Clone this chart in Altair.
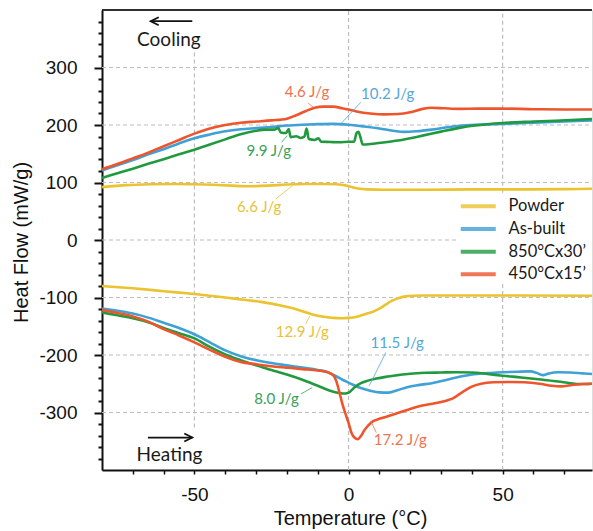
import altair as alt
import pandas as pd

# ---------------- data ----------------
SAMPLES = ["Powder", "As-built", "850°Cx30’", "450°Cx15’"]
LINE_COLORS = ["#EBC32E", "#3FA1D6", "#219A3F", "#EE552C"]
TEXT_COLORS = ["#E8C23A", "#55A8D6", "#3AA15A", "#F0704F"]

POWDER_COOL_T = [-80, -72, -64, -56, -50, -44, -38, -32, -26, -20, -14, -8, -4, -1, 1, 3, 6, 12, 25, 40, 55, 70, 79]
POWDER_COOL_V = [92, 95.5, 97, 97.5, 97, 96, 94.5, 93.5, 94.5, 96.5, 97.5, 97.5, 97, 95, 92, 89.5, 88, 87.5, 87.5, 88, 88, 88.5, 89]
POWDER_HEAT_T = [-80, -70, -60, -50, -40, -34, -28, -22, -16, -12, -8, -5, -2, 0, 2, 4, 6, 8, 10, 12, 14, 16, 18, 21, 25, 40, 55, 79]
POWDER_HEAT_V = [-80, -84, -89, -94, -100, -104, -108, -114, -122, -129, -133.5, -135.5, -136, -135.5, -134.5, -131.5, -128, -124.5, -119.5, -112.5, -106, -101.5, -98.5, -97, -96.5, -96.5, -96.5, -97]

ASB_COOL_T = [-80, -75, -70, -65, -60, -55, -50, -45, -40, -35, -30, -25, -20, -15, -10, -5, 0, 5, 10, 15, 18, 22, 27, 32, 37, 45, 50, 60, 70, 79]
ASB_COOL_V = [121, 130, 139, 149, 158, 168, 177, 183.5, 189, 192.5, 194.5, 196.5, 199, 200.5, 201.5, 202, 200.5, 197.5, 194, 189.5, 188, 189, 192, 196, 199, 201, 202, 204, 206, 208]
ASB_HEAT_T = [-80, -75, -70, -65, -60, -55, -50, -45, -40, -35, -30, -25, -20, -15, -10, -7, -4, -2, 0, 2, 4, 7, 10, 13, 16, 19, 23, 27, 32, 36, 40, 45, 50, 55, 59, 61, 63, 65, 68, 72, 76, 79]
ASB_HEAT_V = [-119, -123, -128, -135, -144, -153, -164, -178, -192, -202, -209, -214, -218, -222, -226, -229.5, -237, -243, -248, -253, -257.5, -262, -265, -265.5, -261, -256, -252, -249, -243, -238, -234, -231.5, -230, -229, -228.5, -231, -235, -232, -230, -230.5, -232, -233]

N850_COOL_T = [-80, -75, -70, -65, -60, -55, -50, -45, -40, -35, -30, -27, -24, -22.8, -22, -20.3, -19.4, -18.8, -17, -15.5, -14.3, -13.6, -12.9, -11, -9.8, -8.9, -6, -3, 0, 1.8, 2.6, 3.2, 3.8, 4.6, 8, 12, 16, 20, 24, 30, 36, 41, 50, 60, 67, 79]
N850_COOL_V = [108, 116, 124, 132.5, 140.5, 149, 157, 166, 175, 184, 190, 192, 192, 195, 187, 186, 193, 179, 180.5, 177.5, 180, 194, 175.5, 174, 177, 171, 170.5, 170, 171, 171, 186, 188, 180, 166, 167.5, 170, 173, 177, 181.5, 188.5, 195, 199, 203.5, 206, 207.5, 210.5]
N850_HEAT_T = [-80, -75, -70, -65, -60, -55, -50, -45, -40, -35, -30, -25, -20, -15, -10, -6, -3, -1, 0, 2, 4, 6, 9, 12, 16, 20, 25, 30, 35, 40, 45, 50, 56, 63, 68, 72, 75, 79]
N850_HEAT_V = [-126, -131, -136, -143, -153, -162, -171, -186, -199, -209, -218, -226, -234, -243, -253.5, -262, -266, -267, -265.5, -256, -249, -245, -241, -238, -235, -232.5, -231, -230.5, -230, -230.5, -233, -236, -239, -243, -246, -249, -250.5, -250]

N450_COOL_T = [-80, -75, -70, -65, -60, -55, -50, -45, -40, -35, -30, -25, -20, -17, -14, -11, -8, -5, -2, 0, 3, 7, 12, 16, 20, 24, 27, 31, 36, 42, 50, 60, 70, 79]
N450_COOL_V = [123, 132, 142, 152, 163, 174, 185, 194, 200, 204, 206, 208, 211, 217, 224, 230, 232, 232, 229, 227, 223, 220, 218.5, 219, 222, 228, 230, 229, 228, 228.5, 228.5, 227.5, 227, 227]
N450_HEAT_T = [-80, -75, -70, -65, -60, -55, -50, -45, -40, -35, -30, -25, -20, -15, -10, -7, -5, -4, -3, -2, -1, 0, 1, 2, 3, 4, 5, 6.5, 8, 10, 13, 16, 20, 24, 28, 32, 34, 36, 38, 40, 43, 47, 52, 57, 62, 66, 69, 72, 76, 79]
N450_HEAT_V = [-122, -127, -133, -142, -155, -166, -178, -191, -203, -212, -216, -219.5, -222, -224.5, -227, -229.5, -235, -245, -264, -285, -302, -318, -336, -344, -346.5, -341, -332, -322, -315, -311, -306, -301, -294, -288, -284, -279, -275, -268, -261, -255, -250, -247.5, -247, -247.5, -250, -253.5, -254.5, -252.5, -250.5, -250]

# enthalpy annotations
ANN_LABEL = ["4.6 J/g", "10.2 J/g", "9.9 J/g", "6.6 J/g", "12.9 J/g", "8.0 J/g", "11.5 J/g", "17.2 J/g"]
ANN_SAMPLE = [3, 1, 2, 0, 0, 2, 1, 3]
ANN_T = [-13.5, 12.7, -25.9, -29, -15, -23.4, 15.8, 16.8]
ANN_V = [248, 245, 146.5, 48, -169.5, -284.5, -187.5, -356.5]
LEAD_T1 = [-13.1, 4.0, -21.7, -23.6, -13.9, -15.5, 12.1, 9.0]
LEAD_V1 = [237.8, 239.5, 170, 71.4, -146, -268, -195.6, -335]
LEAD_T2 = [-11.2, -3.1, -19.9, -18.2, -12.6, -11.8, 6.7, 7.2]
LEAD_V2 = [229.8, 198.8, 181.5, 94.5, -132, -256.6, -253.6, -314.6]

# direction labels and arrows
DIR_LABEL = ["Cooling", "Heating"]
DIR_T = [-58.3, -58.1]
DIR_V = [337, -385]
ARROW_T1 = [-50.7, -65.1]
ARROW_T2 = [-64.2, -50.7]
ARROW_V = [380.5, -343.6]
ARROW_HEAD = ["M1,-0.5L0,0L1,0.5", "M-1,-0.5L0,0L-1,0.5"]

# axes / grid
X_DOMAIN = [-80, 79]
Y_DOMAIN = [-400, 400]
X_TICKS = list(range(-70, 80, 10))
Y_TICKS = list(range(-380, 381, 20))
HGRID_V = [300, 200, 100, 0, -100, -200, -300]
HGRID_T1 = [-80, -80, -80, -80, -80, -80, -80]
HGRID_T2 = [79, 79, 79, 35, 79, 79, 79]
VGRID_T = [-50, 0, 50, 50]
VGRID_V1 = [-326, -400, 82, -400]
VGRID_V2 = [326, 400, 400, -75]

# ---------------- build tables ----------------
series = [
    ("Powder", "cool", POWDER_COOL_T, POWDER_COOL_V),
    ("Powder", "heat", POWDER_HEAT_T, POWDER_HEAT_V),
    ("As-built", "cool", ASB_COOL_T, ASB_COOL_V),
    ("As-built", "heat", ASB_HEAT_T, ASB_HEAT_V),
    ("850°Cx30’", "cool", N850_COOL_T, N850_COOL_V),
    ("850°Cx30’", "heat", N850_HEAT_T, N850_HEAT_V),
    ("450°Cx15’", "cool", N450_COOL_T, N450_COOL_V),
    ("450°Cx15’", "heat", N450_HEAT_T, N450_HEAT_V),
]
rows = []
for name, run, ts, vs in series:
    for i, (t, v) in enumerate(zip(ts, vs)):
        rows.append({"T": t, "V": v, "sample": name, "key": name + "-" + run, "i": i})
lines_df = pd.DataFrame(rows)

ann_df = pd.DataFrame({
    "label": ANN_LABEL, "T": ANN_T, "V": ANN_V,
    "color": [TEXT_COLORS[k] for k in ANN_SAMPLE],
    "T1": LEAD_T1, "V1": LEAD_V1, "T2": LEAD_T2, "V2": LEAD_V2,
})
dir_df = pd.DataFrame({"label": DIR_LABEL, "T": DIR_T, "V": DIR_V})
arrow_df = pd.DataFrame({"T1": ARROW_T1, "T2": ARROW_T2, "V": ARROW_V, "shape": ARROW_HEAD,
                         "Thead": ARROW_T2})
hgrid_df = pd.DataFrame({"V": HGRID_V, "T1": HGRID_T1, "T2": HGRID_T2})
vgrid_df = pd.DataFrame({"T": VGRID_T, "V1": VGRID_V1, "V2": VGRID_V2})

xs = alt.Scale(domain=X_DOMAIN, nice=False, zero=False)
ys = alt.Scale(domain=Y_DOMAIN, nice=False, zero=False)

AXFONT = "Liberation Sans"
TXTFONT = "Lato"
GRID = dict(color="#BDBDBD", strokeDash=[4, 3], strokeWidth=1.2)

x_axis = alt.Axis(
    values=X_TICKS, labelExpr="datum.value % 50 === 0 ? toString(datum.value) : ''",
    tickSize=4, tickWidth=1.5, tickColor="#111", domainColor="#111", domainWidth=2,
    labelFont=AXFONT, labelFontSize=19, labelColor="#111", labelBaseline="alphabetic",
    labelPadding=26, labelFlush=False, labelOverlap=False, grid=False,
    title="Temperature (°C)", titleFont=AXFONT, titleFontSize=20, titleFontWeight="normal",
    titleColor="#111", titleX=248, titleY=54, titleBaseline="alphabetic", titleAnchor="middle",
)
y_axis = alt.Axis(
    values=Y_TICKS,
    labelExpr="datum.value % 100 === 0 && abs(datum.value) <= 300 ? toString(datum.value) : ''",
    tickSize={"condition": {"test": "datum.value % 100 === 0", "value": 8}, "value": 4},
    tickWidth=2, tickColor="#111", domainColor="#111", domainWidth=2,
    labelFont=AXFONT, labelFontSize=19, labelColor="#111", labelPadding=17,
    labelFlush=False, labelOverlap=False, grid=False,
    title="Heat Flow (mW/g)", titleFont=AXFONT, titleFontSize=20, titleFontWeight="normal",
    titleColor="#111", titleX=-81, titleY=232, titleAngle=-90, titleBaseline="middle",
    titleAlign="center",
)


def X(field):
    return alt.X(field, scale=xs, axis=x_axis)


def Y(field):
    return alt.Y(field, scale=ys, axis=y_axis)


hgrid = alt.Chart(hgrid_df).mark_rule(**GRID).encode(
    x=X("T1:Q"), x2="T2:Q", y=Y("V:Q"),
)
vgrid = alt.Chart(vgrid_df).mark_rule(**GRID).encode(
    x=X("T:Q"), y=Y("V1:Q"), y2="V2:Q",
)

lines = alt.Chart(lines_df).mark_line(strokeWidth=2.6, interpolate="monotone").encode(
    x=X("T:Q"),
    y=Y("V:Q"),
    color=alt.Color(
        "sample:N",
        scale=alt.Scale(domain=SAMPLES, range=LINE_COLORS),
        sort=SAMPLES,
        legend=alt.Legend(
            title=None, orient="none", legendX=368, legendY=188, padding=0,
            symbolType="M-3,0H3", symbolSize=136, symbolStrokeWidth=4,
            labelFont=TXTFONT, labelFontSize=16.5, labelColor="#1a1a1a",
            labelOffset=22, rowPadding=5.7,
        ),
    ),
    detail="key:N",
    order="i:Q",
)

leaders = alt.Chart(ann_df).mark_rule(strokeWidth=1, opacity=0.8).encode(
    x=X("T1:Q"), x2="T2:Q",
    y=Y("V1:Q"), y2="V2:Q",
    color=alt.Color("color:N", scale=None),
)
ann_text = alt.Chart(ann_df).mark_text(
    font=TXTFONT, fontSize=15, align="center", baseline="alphabetic"
).encode(
    x=X("T:Q"),
    y=Y("V:Q"),
    text="label:N",
    color=alt.Color("color:N", scale=None),
)

dir_text = alt.Chart(dir_df).mark_text(
    font=TXTFONT, fontSize=19, align="center", baseline="alphabetic", color="#1a1a1a"
).encode(
    x=X("T:Q"),
    y=Y("V:Q"),
    text="label:N",
)
arrow_shaft = alt.Chart(arrow_df).mark_rule(strokeWidth=1.8, color="#111").encode(
    x=X("T1:Q"), x2="T2:Q",
    y=Y("V:Q"),
)
arrow_head = alt.Chart(arrow_df).mark_point(
    filled=False, strokeWidth=1.8, color="#111", opacity=1, size=256
).encode(
    x=X("Thead:Q"),
    y=Y("V:Q"),
    shape=alt.Shape("shape:N", scale=None),
)

top_border = alt.Chart(dir_df).mark_rule(strokeWidth=1.6, color="#222").encode(
    x=alt.value(0), x2=alt.value(490), y=alt.value(0)
)

chart = alt.layer(
    hgrid, vgrid, lines, leaders, ann_text, dir_text, arrow_shaft, arrow_head, top_border
).properties(
    width=490, height=460,
    autosize=alt.AutoSizeParams(type="none"),
    padding={"left": 102, "top": 10, "right": 1, "bottom": 61},
).configure_view(stroke=None).configure(background="white")

chart.save("out.html", embed_options={"renderer": "svg", "actions": False})
